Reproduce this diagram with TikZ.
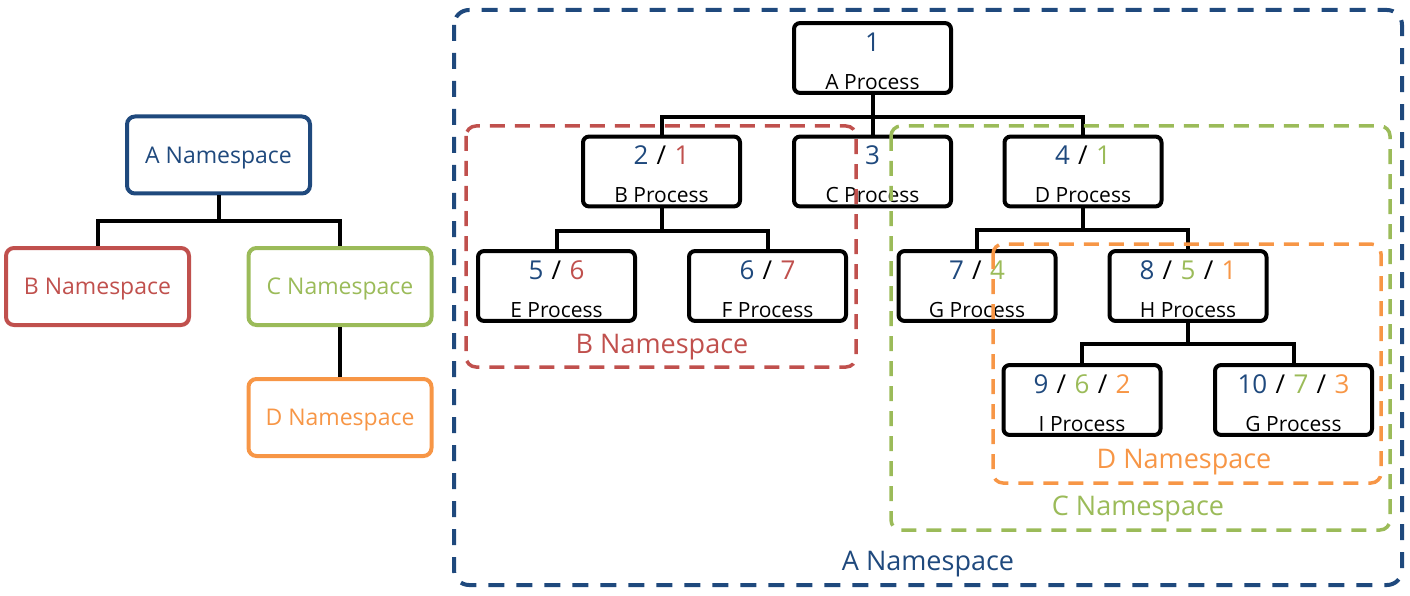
\documentclass[tikz,border=0pt]{standalone}
\usepackage{fontspec}
\setmainfont{Open Sans}
\usetikzlibrary{calc}
\definecolor{nsblue}{HTML}{1F497D}
\definecolor{nsred}{HTML}{C0504D}
\definecolor{nsgreen}{HTML}{9BBB59}
\definecolor{nsorange}{HTML}{F79646}
\tikzset{
  nsbox/.style={draw, rounded corners=8pt, line width=4pt, minimum width=183pt,
    minimum height=77pt, font=\fontsize{23}{27}\selectfont, text height=16.5pt, text depth=0pt},
  proc/.style={draw, rounded corners=6pt, line width=4pt, minimum width=157pt,
    minimum height=67pt, align=center, font=\fontsize{21}{38}\selectfont},
  tree/.style={line width=4pt},
  nsarea/.style={line width=3.5pt, dash pattern=on 15pt off 10pt, rounded corners=10pt},
  arealabel/.style={anchor=base, font=\fontsize{27}{31}\selectfont},
}
\newcommand{\nr}[1]{{\fontsize{26}{38}\selectfont\rule{0pt}{25pt}#1}}
\newcommand{\sep}{\hspace{0.32em}/\hspace{0.32em}}

\begin{document}
\begin{tikzpicture}[x=1pt,y=-1pt]
  \useasboundingbox (0,0) rectangle (1410,596);
  % namespace hierarchy
  \node[nsbox, draw=nsblue, text=nsblue] (na) at (218.5,155) {A Namespace};
  \node[nsbox, draw=nsred, text=nsred] (nb) at (97.5,286.5) {B Namespace};
  \node[nsbox, draw=nsgreen, text=nsgreen] (nc) at (340,286.5) {C Namespace};
  \node[nsbox, draw=nsorange, text=nsorange] (nd) at (340,417.5) {D Namespace};
  \draw[tree] (na.south) -- ++(0,25) -| (nb.north);
  \draw[tree] (na.south) -- ++(0,25) -| (nc.north);
  \draw[tree] (nc.south) -- (nd.north);

  % process tree
  \node[proc] (pa) at (872.5,58) {\nr{\textcolor{nsblue}{1}}\\A Process};
  \node[proc] (pb) at (661.5,171.5) {\nr{\textcolor{nsblue}{2}\sep\textcolor{nsred}{1}}\\B Process};
  \node[proc] (pc) at (872.5,171.5) {\nr{\textcolor{nsblue}{3}}\\C Process};
  \node[proc] (pd) at (1083,171.5) {\nr{\textcolor{nsblue}{4}\sep\textcolor{nsgreen}{1}}\\D Process};
  \node[proc] (pe) at (556.5,286) {\nr{\textcolor{nsblue}{5}\sep\textcolor{nsred}{6}}\\E Process};
  \node[proc] (pf) at (767.5,286) {\nr{\textcolor{nsblue}{6}\sep\textcolor{nsred}{7}}\\F Process};
  \node[proc] (pg) at (977,286) {\nr{\textcolor{nsblue}{7}\sep\textcolor{nsgreen}{4}}\\G Process};
  \node[proc] (ph) at (1188,286) {\nr{\textcolor{nsblue}{8}\sep\textcolor{nsgreen}{5}\sep\textcolor{nsorange}{1}}\\H Process};
  \node[proc] (pi) at (1082,400) {\nr{\textcolor{nsblue}{9}\sep\textcolor{nsgreen}{6}\sep\textcolor{nsorange}{2}}\\I Process};
  \node[proc] (pj) at (1293.5,400) {\nr{\textcolor{nsblue}{10}\sep\textcolor{nsgreen}{7}\sep\textcolor{nsorange}{3}}\\G Process};
  \draw[tree] (pa.south) -- ++(0,22) -| (pb.north);
  \draw[tree] (pa.south) -- (pc.north);
  \draw[tree] (pa.south) -- ++(0,22) -| (pd.north);
  \draw[tree] (pb.south) -- ++(0,23) -| (pe.north);
  \draw[tree] (pb.south) -- ++(0,23) -| (pf.north);
  \draw[tree] (pd.south) -- ++(0,22) -| (pg.north);
  \draw[tree] (pd.south) -- ++(0,22) -| (ph.north);
  \draw[tree] (ph.south) -- ++(0,21) -| (pi.north);
  \draw[tree] (ph.south) -- ++(0,21) -| (pj.north);

  % namespace areas
  \draw[nsarea, draw=nsblue, line width=4pt, dash pattern=on 16pt off 12pt, rounded corners=15pt] (454,10) rectangle (1402,585);
  \draw[nsarea, draw=nsred] (466,126) rectangle (856,367);
  \draw[nsarea, draw=nsgreen] (891,126) rectangle (1390,530);
  \draw[nsarea, draw=nsorange] (993,244) rectangle (1381,483);
  \node[arealabel, text=nsblue] (la) at (928,570) {A Namespace};
  \node[arealabel, text=nsred] (lb) at (662,353) {B Namespace};
  \node[arealabel, text=nsgreen] (lc) at (1138,515) {C Namespace};
  \node[arealabel, text=nsorange] (ld) at (1184,468) {D Namespace};
\end{tikzpicture}
\end{document}
